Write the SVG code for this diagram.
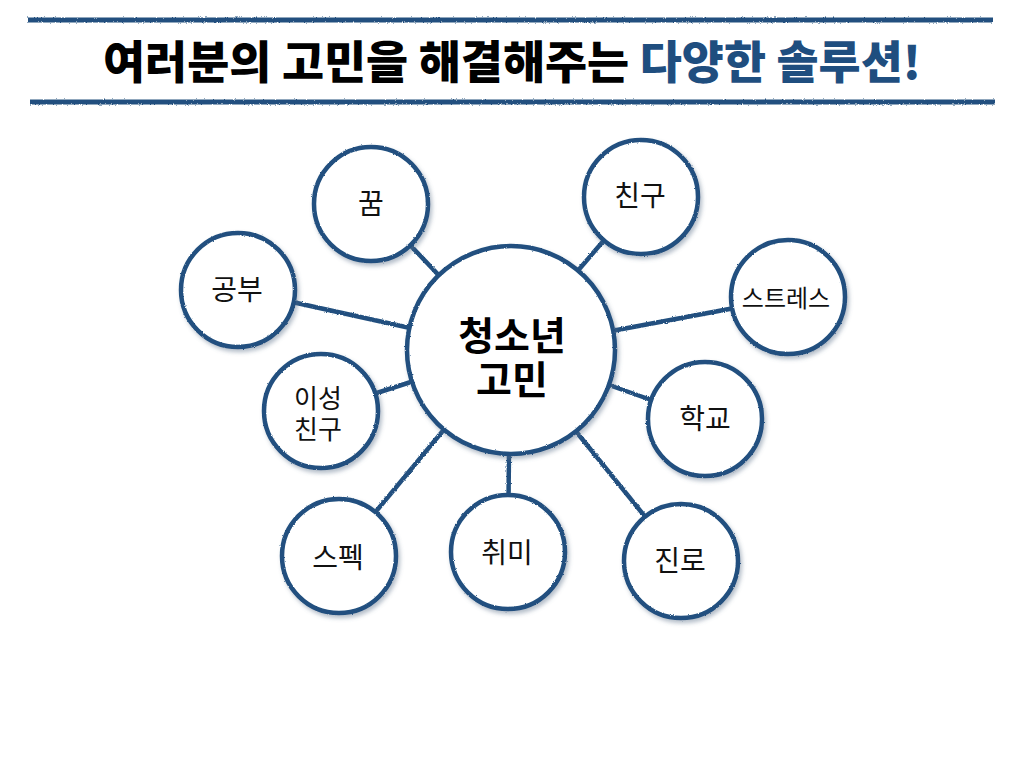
<svg xmlns="http://www.w3.org/2000/svg" width="1024" height="768" viewBox="0 0 1024 768">
<defs>
<filter id="rough" filterUnits="userSpaceOnUse" x="0" y="0" width="1024" height="768">
<feTurbulence type="fractalNoise" baseFrequency="0.9" numOctaves="2" seed="3" result="n"/>
<feDisplacementMap in="SourceGraphic" in2="n" scale="2.5" xChannelSelector="R" yChannelSelector="G"/>
</filter>
<filter id="shadow" x="-20%" y="-20%" width="140%" height="140%">
<feTurbulence type="fractalNoise" baseFrequency="0.9" numOctaves="2" seed="5" result="n"/>
<feDisplacementMap in="SourceGraphic" in2="n" scale="2" xChannelSelector="R" yChannelSelector="G" result="r"/>
<feGaussianBlur in="SourceAlpha" stdDeviation="2.2" result="b"/>
<feOffset in="b" dx="2" dy="3" result="o"/>
<feFlood flood-color="#5a6f88" flood-opacity="0.45"/>
<feComposite in2="o" operator="in" result="s"/>
<feMerge><feMergeNode in="s"/><feMergeNode in="r"/></feMerge>
</filter>
</defs>
<style>
.rule{stroke:#21507f;stroke-width:5;fill:none;filter:url(#rough)}
.link{stroke:#21507f;stroke-width:4.5;fill:none;filter:url(#rough)}
.node circle{fill:#ffffff;stroke:#21507f;stroke-width:4.5;filter:url(#shadow)}
.lbl{font-family:"Noto Sans CJK KR","Noto Sans",sans-serif;font-size:28px;fill:#111;text-anchor:middle}
.title{font-family:"Noto Sans CJK KR","Noto Sans",sans-serif;font-weight:900;font-size:45px;fill:#000}
.center{font-family:"Noto Sans CJK KR","Noto Sans",sans-serif;font-weight:700;font-size:39px;fill:#000;text-anchor:middle}
</style>
<rect width="1024" height="768" fill="#ffffff"/>
<g id="header">
<line class="rule" x1="28" y1="20" x2="993" y2="20"/>
<line class="rule" x1="30" y1="102" x2="995" y2="102"/>
<text class="title" x="103" y="79" textLength="818" lengthAdjust="spacingAndGlyphs">여러분의 고민을 해결해주는 <tspan fill="#1f4e7f">다양한 솔루션!</tspan></text>
</g>
<g id="connectors">
<line class="link" x1="510" y1="350" x2="371" y2="204"/>
<line class="link" x1="510" y1="350" x2="641" y2="197"/>
<line class="link" x1="510" y1="350" x2="238" y2="290"/>
<line class="link" x1="510" y1="350" x2="788" y2="298"/>
<line class="link" x1="510" y1="350" x2="321" y2="411"/>
<line class="link" x1="510" y1="350" x2="705" y2="419"/>
<line class="link" x1="510" y1="350" x2="339" y2="556"/>
<line class="link" x1="510" y1="350" x2="508" y2="552"/>
<line class="link" x1="510" y1="350" x2="681" y2="561"/>
</g>
<g id="node-center" class="node">
<circle cx="511" cy="350" r="104"/>
<text class="center" x="512" y="350">청소년<tspan x="512" dy="44">고민</tspan></text>
</g>
<g id="node-dream" class="node">
<circle cx="371" cy="204" r="57"/>
<text class="lbl" x="371" y="214">꿈</text>
</g>
<g id="node-friend" class="node">
<circle cx="641" cy="197" r="57"/>
<text class="lbl" x="640" y="206">친구</text>
</g>
<g id="node-study" class="node">
<circle cx="238" cy="290" r="57"/>
<text class="lbl" x="237" y="300">공부</text>
</g>
<g id="node-stress" class="node">
<circle cx="788" cy="297" r="57"/>
<text class="lbl" x="786" y="307" style="font-size:24px">스트레스</text>
</g>
<g id="node-love" class="node">
<circle cx="321" cy="411" r="57"/>
<text class="lbl" x="318" y="408" style="font-size:26px">이성<tspan x="318" dy="31">친구</tspan></text>
</g>
<g id="node-school" class="node">
<circle cx="705" cy="419" r="57"/>
<text class="lbl" x="705" y="429">학교</text>
</g>
<g id="node-spec" class="node">
<circle cx="339" cy="556" r="57"/>
<text class="lbl" x="338" y="568">스펙</text>
</g>
<g id="node-hobby" class="node">
<circle cx="508" cy="552" r="57"/>
<text class="lbl" x="507" y="563">취미</text>
</g>
<g id="node-career" class="node">
<circle cx="681" cy="561" r="57"/>
<text class="lbl" x="680" y="571">진로</text>
</g>
</svg>
